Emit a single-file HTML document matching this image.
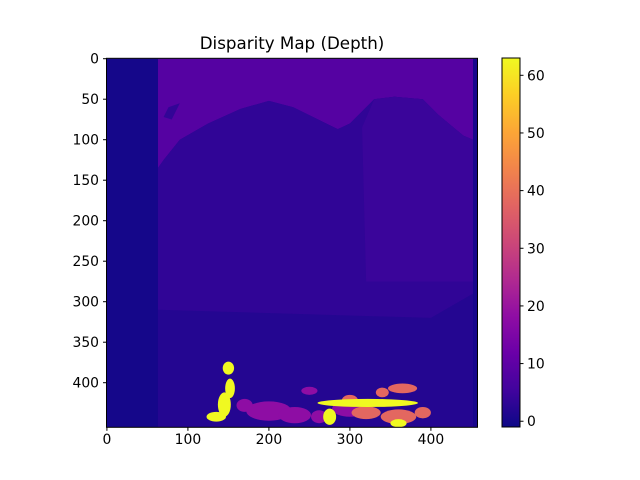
<!DOCTYPE html>
<html><head><meta charset="utf-8"><style>
body{margin:0;background:#fff;}
svg{display:block;font-family:"DejaVu Sans","Liberation Sans",sans-serif;}
</style></head><body>
<svg id="c" width="640" height="480" viewBox="0 0 640 480">
<defs>
<linearGradient id="plasma" x1="0" y1="1" x2="0" y2="0">
<stop offset="0" stop-color="#0d0887"/><stop offset="0.1" stop-color="#41049d"/><stop offset="0.2" stop-color="#6a00a8"/><stop offset="0.3" stop-color="#8f0da4"/><stop offset="0.4" stop-color="#b12a90"/><stop offset="0.5" stop-color="#cc4778"/><stop offset="0.6" stop-color="#e16462"/><stop offset="0.7" stop-color="#f2844b"/><stop offset="0.8" stop-color="#fca636"/><stop offset="0.9" stop-color="#fcce25"/><stop offset="1" stop-color="#f0f921"/>
</linearGradient>
<clipPath id="clip"><rect x="106.5" y="58.3" width="371" height="369"/></clipPath>
</defs>
<text x="292" y="49" text-anchor="middle" font-size="16.7">Disparity Map (Depth)</text>
<g id="img" clip-path="url(#clip)"></g>
<rect x="106.5" y="58.3" width="371" height="369" fill="none" stroke="#000" stroke-width="1"/>
<g id="axes"></g>
<rect x="502" y="58" width="18" height="369" fill="url(#plasma)" stroke="#000" stroke-width="1"/>
<g id="cbar"></g>
</svg>
<script>
const xTicks=[0,100,200,300,400];
const yTicks=[0,50,100,150,200,250,300,350,400];
const cbTicks=[0,10,20,30,40,50,60];
const cbMin=-1, cbMax=63;
// regions in data coordinates [points, value]
const regionPolys=[
 [[[0,0],[458,0],[458,455],[0,455]],1.8],
 [[[63,135],[70,125],[90,100],[125,80],[165,62],[200,52],[230,60],[285,87],[300,80],[330,50],[355,47],[390,50],[410,70],[440,95],[452,100],[452,0],[63,0]],8.5],
 [[[63,135],[70,125],[90,100],[125,80],[165,62],[200,52],[230,60],[285,87],[300,80],[330,50],[355,47],[390,50],[410,70],[440,95],[452,100],[452,290],[400,320],[63,310]],3.3],
 [[[315,85],[330,50],[355,47],[390,50],[410,70],[440,95],[452,100],[452,275],[320,275]],4.6],
 [[[0,0],[63,0],[63,455],[0,455]],0],
 [[[452,0],[458,0],[458,455],[452,455]],0.5],
 [[[76,60],[90,55],[80,75],[70,72]],3.5]
];
const blobs=[
 // [cx, cy, rx, ry, value]
 [200,435,28,12,18],[170,428,10,8,18],[232,440,20,10,18],[250,410,10,5,18],
 [300,432,22,10,18],[262,442,10,8,18],
 [340,412,8,6,38],[365,407,18,6,38],[320,437,18,8,38],[360,442,22,9,38],[390,437,10,7,38],[300,422,10,7,38],
 [322,425,62,5,63],[150,382,7,8,63],[152,407,6,12,63],[145,427,8,15,63],[135,442,12,6,63],[275,442,8,10,63],[360,450,10,5,63]
];
const stops=[[0,"#0d0887"],[0.1,"#41049d"],[0.2,"#6a00a8"],[0.3,"#8f0da4"],[0.4,"#b12a90"],[0.5,"#cc4778"],[0.6,"#e16462"],[0.7,"#f2844b"],[0.8,"#fca636"],[0.9,"#fcce25"],[1,"#f0f921"]];
function hx(c){return[1,3,5].map(i=>parseInt(c.substr(i,2),16));}
function cmap(v){let t=(v-cbMin)/(cbMax-cbMin);t=Math.max(0,Math.min(1,t));
 for(let i=1;i<stops.length;i++){if(t<=stops[i][0]){const a=stops[i-1],b=stops[i];const f=(t-a[0])/(b[0]-a[0]);const A=hx(a[1]),B=hx(b[1]);return"rgb("+A.map((x,j)=>Math.round(x+(B[j]-x)*f)).join(",")+")";}}return stops[10][1];}
const X0=106.5+0.405,Y0=58.3+0.405,S=0.81;
const px=x=>X0+x*S, py=y=>Y0+y*S;
const cy=v=>427-(v-cbMin)/(cbMax-cbMin)*369;
const NS="http://www.w3.org/2000/svg";
const img=document.getElementById('img');
regionPolys.forEach((r,i)=>{const p=document.createElementNS(NS,'polygon');
 p.setAttribute('points',r[0].map(q=>px(q[0])+","+py(q[1])).join(" "));p.setAttribute('fill',cmap(r[1]));
 
 
 img.appendChild(p);});
blobs.forEach(b=>{const e=document.createElementNS(NS,'ellipse');
 e.setAttribute('cx',px(b[0]));e.setAttribute('cy',py(b[1]));e.setAttribute('rx',b[2]*S);e.setAttribute('ry',b[3]*S);e.setAttribute('fill',cmap(b[4]));
 
 
 img.appendChild(e);});
const ax=document.getElementById('axes');
function line(x1,y1,x2,y2,g){const l=document.createElementNS(NS,'line');l.setAttribute('x1',x1);l.setAttribute('y1',y1);l.setAttribute('x2',x2);l.setAttribute('y2',y2);l.setAttribute('stroke','#000');g.appendChild(l);return l;}
function text(x,y,s,anchor,g){const t=document.createElementNS(NS,'text');t.setAttribute('x',x);t.setAttribute('y',y);t.setAttribute('font-size','13.9');t.setAttribute('text-anchor',anchor);t.textContent=s;g.appendChild(t);return t;}
xTicks.forEach(v=>{const l=line(px(v),427.3,px(v),430.8,ax);
 
 
 const t=text(px(v),444,String(v),'middle',ax);
 
 });
yTicks.forEach(v=>{const l=line(103,py(v),106.5,py(v),ax);
 
 
 const t=text(99,py(v)+5,String(v),'end',ax);
 
 });
const cb=document.getElementById('cbar');
cbTicks.forEach(v=>{const l=line(520,cy(v),523.5,cy(v),cb);
 
 
 const t=text(527,cy(v)+5,String(v),'start',cb);
 
 });
</script>
</body></html>
